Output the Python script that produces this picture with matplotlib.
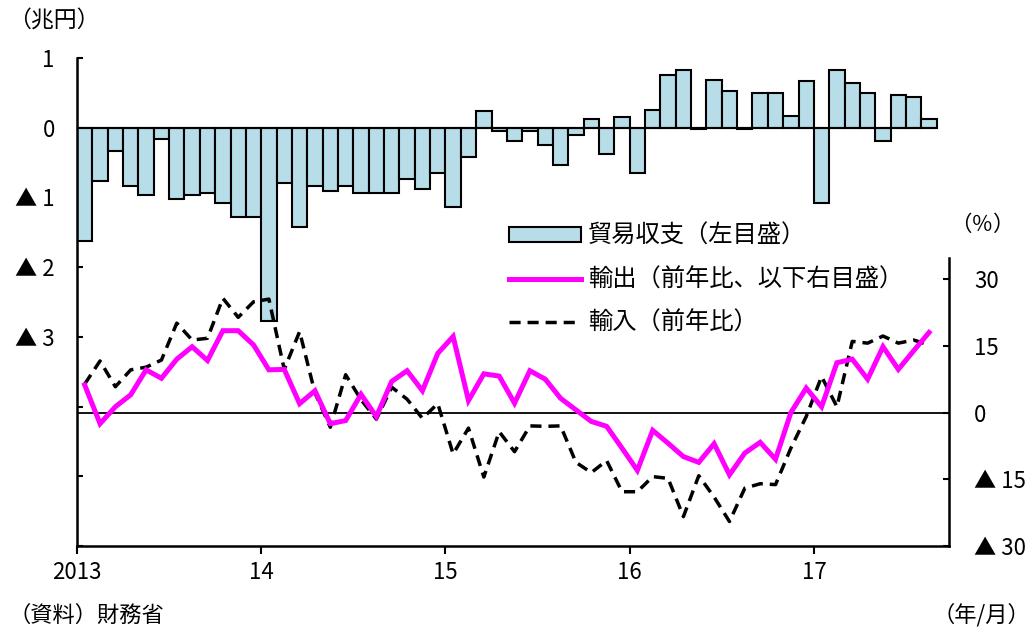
import matplotlib
matplotlib.use("Agg")
import matplotlib.pyplot as plt
import numpy as np
from matplotlib.patches import Patch
from matplotlib.lines import Line2D

plt.rcParams['font.family'] = ['Noto Sans CJK JP', 'DejaVu Sans']

# Trade balance (trillion yen), Jan 2013 - Aug 2017
balance = [-1.62, -0.76, -0.33, -0.84, -0.96, -0.16, -1.02, -0.96, -0.93, -1.08, -1.28, -1.28,
           -2.77, -0.79, -1.42, -0.83, -0.91, -0.83, -0.94, -0.94, -0.94, -0.73, -0.88, -0.65,
           -1.14, -0.42, 0.24, -0.04, -0.19, -0.04, -0.25, -0.54, -0.10, 0.12, -0.37, 0.15,
           -0.65, 0.26, 0.75, 0.83, -0.02, 0.69, 0.52, -0.02, 0.50, 0.50, 0.17, 0.67,
           -1.08, 0.83, 0.64, 0.50, -0.19, 0.47, 0.44, 0.12]
# Exports, y/y %
exports = [6.2, -2.5, 1.3, 4.0, 9.6, 7.7, 12.0, 14.8, 11.7, 18.4, 18.4, 15.2,
           9.6, 9.7, 2.0, 4.9, -2.5, -1.8, 4.1, -0.9, 7.0, 9.4, 4.9, 13.3,
           17.1, 2.7, 8.7, 8.2, 2.1, 9.4, 7.5, 3.2, 0.6, -2.0, -3.1, -8.0,
           -13.0, -4.0, -6.9, -9.9, -11.2, -7.0, -14.0, -9.1, -6.7, -10.5, 0.0, 5.5,
           1.3, 11.2, 12.0, 7.5, 14.8, 9.7, 13.9, 18.0]
# Imports, y/y %
imports = [6.4, 11.6, 5.8, 9.6, 10.2, 11.8, 20.1, 16.3, 16.7, 25.7, 21.4, 24.9,
           25.5, 9.7, 18.2, 4.4, -3.3, 8.5, 2.9, -1.5, 5.7, 3.0, -1.3, 2.0,
           -9.3, -3.5, -14.5, -4.3, -8.8, -3.0, -3.1, -3.0, -11.2, -13.5, -10.8, -17.8,
           -17.8, -14.4, -14.8, -23.4, -14.2, -19.0, -24.5, -17.0, -16.0, -16.2, -8.0, -0.9,
           8.1, 1.3, 16.0, 15.6, 17.2, 15.6, 16.3, 15.2]

year_labels = ['2013', '14', '15', '16', '17']
left_ticks = [1, 0, -1, -2, -3, -4, -5, -6]
left_labels = ['1', '0', '▲ 1', '▲ 2', '▲ 3', '', '', '']
right_ticks = [30, 15, 0, -15, -30]
right_labels = ['30', '15', '0', '▲ 15', '▲ 30']

W, H = 1034, 633
fig = plt.figure(figsize=(W / 100, H / 100), dpi=100)
x0, x1, ytop, ybot = 77, 949, 58, 546
ax = fig.add_axes([x0 / W, (H - ybot) / H, (x1 - x0) / W, (ybot - ytop) / H])
ax2 = ax.twinx()

n = len(balance)
xc = np.arange(n) + 0.5
bar_color = '#B7DDE8'
ax.bar(xc, balance, width=1.0, color=bar_color, edgecolor='black', linewidth=1.5, zorder=2)
ax.hlines(0, 0, n, color='black', linewidth=1.5, zorder=3)
ax.set_ylim(-6, 1)
ax.set_xlim(0, 56.8)

dash = (0, (3.2, 2))
ax2.plot(xc, exports, color='#FF00FF', linewidth=3.6, solid_joinstyle='miter', zorder=4)
ax2.plot(xc, imports, color='black', linewidth=2.5, linestyle=dash, zorder=3)
ax2.axhline(0, color='black', linewidth=1.3, zorder=2)
ax2.set_ylim(-30, 79.7)
ax2.set_xlim(0, 56.8)

# spines
ax.spines['top'].set_visible(False)
ax2.spines['top'].set_visible(False)
ax2.spines['left'].set_visible(False)
ax.spines['right'].set_visible(False)
for s in ['left', 'bottom']:
    ax.spines[s].set_linewidth(1.8)
ax2.spines['bottom'].set_visible(False)
ax2.spines['right'].set_linewidth(1.8)
ax2.spines['right'].set_bounds(-30, 34.8)

fs_tick = 16
ax.set_yticks(left_ticks)
ax.set_yticklabels(left_labels, fontsize=fs_tick)
ax.tick_params(axis='y', direction='in', length=4, width=1.5, pad=16)
ax.set_xticks(np.arange(0, n, 12))
ax.set_xticklabels(year_labels, fontsize=fs_tick)
ax.tick_params(axis='x', direction='out', length=6, width=1.5, pad=5)

ax2.set_yticks(right_ticks)
ax2.set_yticklabels(right_labels, fontsize=fs_tick)
ax2.tick_params(axis='y', direction='in', length=4, width=1.5, pad=18)

# legend
fs_leg = 17.5
handles = [Patch(facecolor=bar_color, edgecolor='black', linewidth=1.5),
           Line2D([], [], color='#FF00FF', linewidth=3.6),
           Line2D([], [], color='black', linewidth=2.5, linestyle=dash)]
labels = ['貿易収支（左目盛）', '輸出（前年比、以下右目盛）', '輸入（前年比）']
leg = ax2.legend(handles, labels, loc='upper left', bbox_to_anchor=(509 / W, (H - 223) / H),
                 bbox_transform=fig.transFigure, frameon=False, fontsize=fs_leg,
                 handlelength=2.95, handleheight=0.55, handletextpad=0.3, labelspacing=0.72,
                 borderpad=0, borderaxespad=0)

fs_txt = 16
fig.text(8 / W, (H - 21) / H, '（兆円）', fontsize=16.5, ha='left', va='center')
fig.text(982 / W, (H - 225) / H, '（％）', fontsize=15.5, ha='center', va='center')
fig.text(8 / W, (H - 615) / H, '（資料）財務省', fontsize=fs_txt, ha='left', va='center')
fig.text(1030 / W, (H - 615) / H, '（年/月）', fontsize=fs_txt, ha='right', va='center')

fig.savefig('out.png', dpi=100)
